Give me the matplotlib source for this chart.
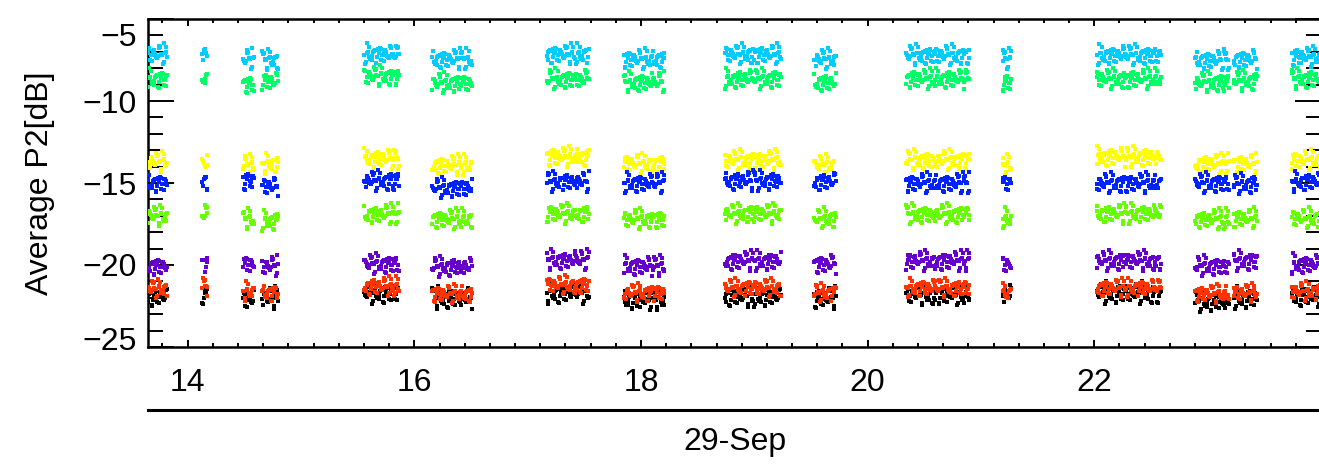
import matplotlib
matplotlib.use("Agg")
import matplotlib.pyplot as plt
import matplotlib.transforms as mtransforms
from matplotlib.ticker import MultipleLocator
import numpy as np

plt.rcParams['font.family'] = ['Liberation Sans', 'DejaVu Sans']

# time segments (hours of 29-Sep) where data exist
seg_start = [13.65, 14.13, 14.49, 14.66, 15.56, 16.16, 17.17, 17.85,
             18.74, 19.53, 20.34, 21.19, 22.02, 22.89, 23.23, 23.74]
seg_end = [13.82, 14.18, 14.59, 14.80, 15.87, 16.51, 17.54, 18.21,
           19.24, 19.72, 20.90, 21.27, 22.59, 23.19, 23.44, 24.00]

# mean level of each series in each segment [dB]
cyan = [-7.15, -7.10, -7.45, -7.50, -7.15, -7.45, -7.15, -7.45,
        -7.15, -7.45, -7.20, -7.45, -7.20, -7.50, -7.45, -7.30]
green = [-8.67, -8.55, -8.97, -8.80, -8.48, -8.90, -8.67, -8.85,
         -8.65, -8.85, -8.65, -8.85, -8.65, -8.85, -8.75, -8.65]
yellow = [-13.7, -13.8, -13.9, -13.8, -13.5, -13.9, -13.4, -13.8,
          -13.6, -13.9, -13.6, -13.9, -13.4, -13.8, -13.8, -13.6]
blue = [-15.00, -14.85, -14.85, -15.20, -14.85, -15.30, -14.90, -15.00,
        -14.85, -14.90, -15.00, -15.00, -15.00, -15.00, -15.05, -14.90]
lime = [-17.00, -16.90, -17.20, -17.30, -16.90, -17.20, -16.85, -17.20,
        -16.85, -17.15, -16.90, -17.15, -16.85, -17.20, -17.15, -17.15]
purple = [-20.06, -19.90, -19.94, -20.06, -19.94, -20.10, -19.70, -20.06,
          -19.75, -19.95, -19.75, -19.95, -19.75, -20.06, -19.75, -19.95]
red = [-21.45, -21.30, -21.60, -21.70, -21.30, -21.75, -21.20, -21.70,
       -21.40, -21.70, -21.40, -21.70, -21.40, -21.75, -21.70, -21.60]
black = [-21.9, -21.8, -22.1, -22.0, -21.7, -22.0, -21.7, -22.1,
         -21.9, -22.0, -21.8, -21.8, -21.7, -22.2, -22.0, -21.9]

# typical scatter of single samples about the segment mean [dB]
scatter = [0.12, -0.35, 0.58, -0.08, 0.27, -0.61, 0.03, 0.44, -0.22, 0.71,
           -0.47, 0.15, -0.02, 0.36, -0.74, 0.21, -0.29, 0.52, -0.13, 0.06,
           -0.55, 0.31, 0.88, -0.18, 0.09, -0.39, 0.48, -0.06, 0.24, -0.83,
           0.17, -0.26, 0.63, -0.11, 0.39, -0.44, 0.01, 0.29, -0.67, 0.13,
           -0.21]

series = [cyan, green, yellow, blue, lime, purple, red, black]
colors = ['#00ccff', '#00ff66', '#ffff00', '#0022ff', '#66ff00',
          '#6600cc', '#ff3300', '#000000']
spread = [0.75, 0.75, 0.75, 0.75, 0.75, 0.75, 0.7, 0.8]
layer = [3, 3, 3, 3, 3, 3, 3, 2]

xticks = [14, 16, 18, 20, 22]
yticks = [-5, -10, -15, -20, -25]

fig = plt.figure(figsize=(13.19, 4.73), dpi=100)
ax = fig.add_axes([0.1122, 0.2664, 0.8893, 0.6934])

step = 1.0 / 160
sc = np.array(scatter)
for k, (lev, col, sp) in enumerate(zip(series, colors, spread)):
    xs, ys = [], []
    for j in range(len(seg_start)):
        t = np.arange(seg_start[j], seg_end[j], step)
        i = np.arange(len(t))
        idx = (i * 17 + (i // len(sc)) * 11 + 5 * k + 3 * j) % len(sc)
        xs.append(t)
        ys.append(lev[j] + sp * sc[idx])
    ax.plot(np.concatenate(xs), np.concatenate(ys), 's', color=col,
            ms=2.2, mew=0, zorder=layer[k])

ax.set_xlim(13.65, 24.0)
ax.set_ylim(-25, -5.15)
ax.set_xticks(xticks)
ax.set_yticks(yticks)
ax.set_yticklabels(['\u22125', '\u221210', '\u221215', '\u221220', '\u221225'])
ax.xaxis.set_minor_locator(MultipleLocator(2 / 9))
ax.yaxis.set_minor_locator(MultipleLocator(1))
ax.tick_params(which='both', direction='in', top=True, right=True,
               labelsize=23, width=1.4)
ax.tick_params(axis='x', which='major', length=5, pad=15)
ax.tick_params(axis='x', which='minor', length=3)
ax.tick_params(axis='y', which='major', length=19, pad=8)
ax.tick_params(axis='y', which='minor', length=10.5)
for s in ax.spines.values():
    s.set_linewidth(1.8)

# IDL pulls the end labels inside the axis
ticks = ax.yaxis.get_major_ticks()
ticks[0].label1.set_transform(ticks[0].label1.get_transform() +
                              mtransforms.ScaledTranslation(0, -11 / 72, fig.dpi_scale_trans))
ticks[-1].label1.set_transform(ticks[-1].label1.get_transform() +
                               mtransforms.ScaledTranslation(0, 6 / 72, fig.dpi_scale_trans))

ax.set_ylabel('Average P2[dB]', fontsize=23, labelpad=20)

# date level of the time axis
ax.plot([0, 1.01], [-0.192, -0.192], transform=ax.transAxes, color='k',
        lw=2.2, clip_on=False)
ax.text(0.5, -0.29, '29-Sep', transform=ax.transAxes, ha='center',
        va='center', fontsize=23)

fig.savefig('out.png', dpi=100)
